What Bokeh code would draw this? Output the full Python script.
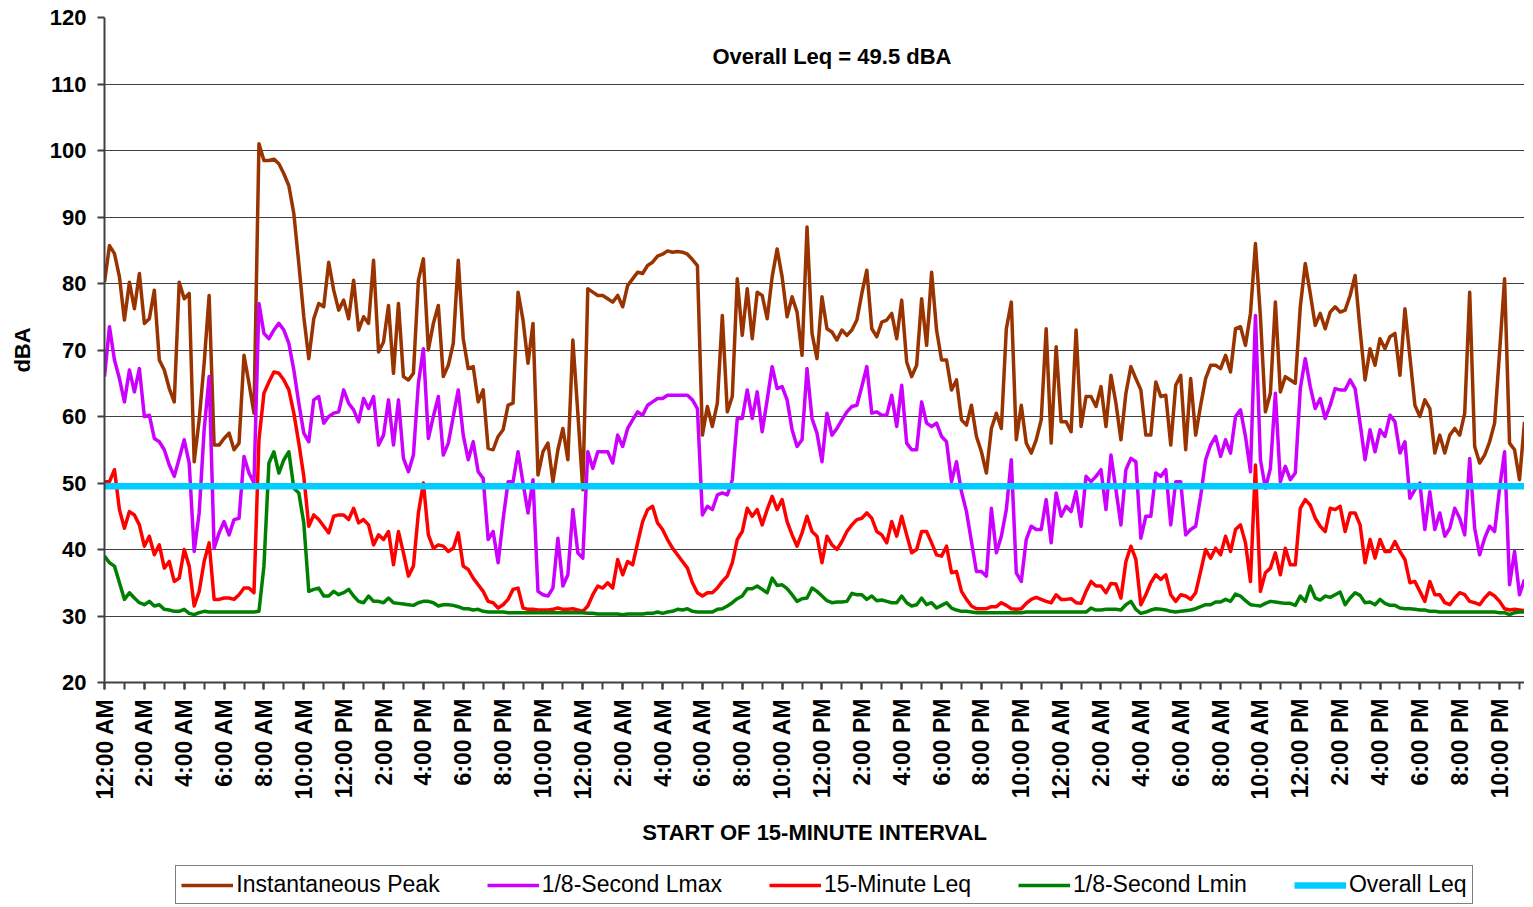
import math
from bokeh.plotting import figure
from bokeh.layouts import column
from bokeh.models import FixedTicker, Label, Legend, LegendItem, ColumnDataSource, Range1d
from bokeh.embed import file_html
from bokeh.resources import INLINE

tick_labels = [
    "12:00 AM", "2:00 AM", "4:00 AM", "6:00 AM", "8:00 AM", "10:00 AM",
    "12:00 PM", "2:00 PM", "4:00 PM", "6:00 PM", "8:00 PM", "10:00 PM",
    "12:00 AM", "2:00 AM", "4:00 AM", "6:00 AM", "8:00 AM", "10:00 AM",
    "12:00 PM", "2:00 PM", "4:00 PM", "6:00 PM", "8:00 PM", "10:00 PM",
    "12:00 AM", "2:00 AM", "4:00 AM", "6:00 AM", "8:00 AM", "10:00 AM",
    "12:00 PM", "2:00 PM", "4:00 PM", "6:00 PM", "8:00 PM", "10:00 PM",
]

peak = [
    80.2, 85.7, 84.5, 81.0, 74.5, 80.2, 76.2, 81.5, 74.0, 74.7, 79.0, 68.5, 67.0, 64.2, 62.2, 80.2,
    77.7, 78.5, 53.2, 59.5, 68.0, 78.2, 55.7, 55.7, 56.7, 57.5, 55.0, 56.0, 69.2, 65.0, 60.5, 101.0,
    98.5, 98.5, 98.7, 98.0, 96.5, 94.7, 90.5, 83.0, 75.0, 68.7, 74.7, 77.0, 76.5, 83.2, 79.0, 76.0,
    77.5, 74.7, 80.5, 73.0, 75.0, 74.0, 83.5, 69.7, 71.2, 76.7, 66.5, 77.0, 66.0, 65.5, 66.5, 80.5,
    83.7, 70.0, 74.0, 76.7, 66.0, 67.7, 71.0, 83.5, 71.7, 67.2, 67.5, 62.2, 64.0, 55.2, 55.0, 57.0,
    58.0, 61.7, 62.0, 78.7, 74.5, 68.0, 74.0, 51.2, 54.7, 56.0, 50.2, 55.0, 58.2, 53.5, 71.5, 60.5,
    49.0, 79.2, 78.7, 78.2, 78.2, 77.7, 77.2, 78.2, 76.5, 79.7, 80.7, 81.7, 81.5, 82.7, 83.2, 84.1,
    84.4, 84.9, 84.7, 84.8, 84.7, 84.4, 83.6, 82.7, 57.2, 61.5, 58.5, 62.0, 75.2, 60.7, 63.0, 80.7,
    72.2, 79.2, 71.7, 78.7, 78.2, 74.7, 81.0, 85.2, 81.0, 75.0, 78.0, 75.7, 69.2, 88.5, 72.5, 68.7,
    78.0, 73.2, 72.7, 71.5, 73.0, 72.2, 73.0, 74.5, 78.5, 82.0, 73.2, 72.0, 74.2, 74.5, 75.5, 71.7,
    77.5, 68.2, 66.0, 67.7, 77.7, 70.7, 81.7, 73.0, 68.5, 68.5, 64.0, 65.5, 59.5, 58.7, 61.7, 57.0,
    54.7, 51.5, 58.2, 60.5, 58.2, 73.2, 77.2, 56.5, 61.7, 56.0, 54.5, 56.5, 59.5, 73.2, 56.0, 70.5,
    59.2, 59.2, 57.7, 73.0, 58.5, 63.0, 63.0, 61.5, 64.5, 58.5, 66.2, 62.0, 56.5, 63.5, 67.5, 65.7,
    64.0, 57.2, 57.2, 65.2, 63.0, 63.2, 55.7, 64.7, 66.2, 55.0, 65.7, 57.2, 61.7, 65.7, 67.7, 67.7,
    67.2, 69.2, 66.7, 73.2, 73.5, 70.7, 75.5, 86.0, 75.0, 60.7, 63.5, 77.2, 63.7, 66.0, 65.5, 65.0,
    76.5, 83.0, 78.5, 73.7, 75.5, 73.2, 75.7, 76.5, 75.7, 76.0, 78.2, 81.2, 73.0, 65.5, 70.2, 67.7,
    71.7, 70.2, 72.0, 72.5, 66.2, 76.2, 69.0, 61.7, 60.0, 62.5, 61.2, 54.5, 57.2, 54.5, 57.2, 58.2,
    57.2, 60.5, 78.7, 55.5, 53.0, 54.2, 56.2, 59.0, 69.7, 80.7, 56.0, 55.0, 50.5, 59.2,
]

lmax = [
    66.0, 73.5, 68.5, 65.7, 62.2, 67.0, 63.7, 67.2, 60.0, 60.2, 56.7, 56.2, 55.0, 52.7, 51.0, 53.7,
    56.5, 53.0, 39.7, 45.5, 58.0, 66.0, 40.2, 42.5, 44.2, 42.2, 44.5, 44.7, 54.0, 51.5, 50.0, 77.0,
    72.5, 71.7, 73.0, 74.0, 73.0, 71.0, 67.0, 62.0, 57.5, 56.2, 62.5, 63.0, 59.0, 60.0, 60.5, 60.7,
    64.0, 62.0, 61.0, 59.2, 62.7, 61.2, 63.0, 55.7, 57.2, 62.5, 55.7, 62.5, 53.7, 51.7, 54.2, 65.0,
    70.2, 56.7, 60.0, 63.0, 54.2, 56.0, 60.0, 64.0, 57.2, 53.5, 56.2, 51.7, 50.7, 41.5, 42.7, 38.0,
    44.5, 50.2, 50.2, 54.7, 50.0, 45.5, 50.5, 33.7, 33.2, 33.0, 34.2, 41.7, 34.5, 36.2, 46.0, 39.5,
    38.7, 54.7, 52.2, 54.7, 54.7, 54.7, 53.0, 57.2, 55.5, 58.2, 59.5, 60.7, 60.2, 61.7, 62.2, 62.7,
    62.7, 63.2, 63.2, 63.2, 63.2, 63.2, 62.5, 61.2, 45.2, 46.5, 46.0, 48.2, 48.5, 48.2, 50.5, 59.7,
    59.7, 64.0, 59.7, 63.7, 57.7, 62.5, 67.5, 64.2, 64.5, 62.5, 58.0, 55.5, 56.5, 67.2, 59.7, 57.5,
    53.2, 60.5, 57.2, 58.2, 59.5, 60.7, 61.5, 61.7, 64.5, 67.5, 60.5, 60.7, 60.2, 60.2, 63.2, 58.5,
    64.7, 56.0, 55.0, 55.0, 62.2, 59.0, 58.5, 59.0, 57.0, 56.2, 50.2, 53.2, 48.7, 45.7, 41.2, 36.7,
    36.7, 36.0, 46.2, 39.5, 42.0, 46.0, 53.5, 36.5, 35.2, 41.5, 43.5, 43.0, 43.0, 47.5, 41.0, 48.5,
    45.0, 46.5, 45.7, 48.7, 43.5, 51.0, 50.2, 51.0, 52.0, 46.0, 54.2, 49.0, 43.7, 52.0, 53.7, 53.2,
    41.7, 45.0, 45.0, 51.5, 51.0, 52.0, 43.7, 50.2, 50.2, 42.2, 43.0, 43.5, 48.0, 53.5, 55.7, 57.0,
    54.0, 56.5, 54.5, 60.0, 61.0, 57.0, 51.7, 75.2, 53.5, 49.2, 52.2, 63.5, 50.2, 52.5, 50.5, 51.5,
    64.2, 68.7, 64.5, 61.2, 62.7, 59.7, 61.7, 64.2, 64.0, 64.0, 65.5, 64.2, 59.0, 53.5, 58.0, 54.7,
    58.0, 57.0, 60.2, 59.2, 54.5, 56.2, 47.7, 49.0, 50.0, 43.0, 48.7, 43.0, 45.5, 42.0, 43.2, 46.2,
    44.7, 42.2, 53.7, 43.2, 39.2, 41.7, 43.5, 42.7, 49.2, 54.7, 34.7, 39.7, 33.2, 35.5,
]

leq = [
    50.2, 50.2, 52.0, 46.0, 43.2, 45.7, 45.2, 43.7, 40.5, 42.0, 39.2, 40.7, 37.2, 38.2, 35.2, 35.7,
    40.0, 37.5, 31.5, 33.7, 38.2, 41.0, 32.5, 32.5, 32.7, 32.7, 32.5, 33.2, 34.2, 34.2, 33.5, 56.5,
    63.5, 65.2, 66.7, 66.5, 65.5, 64.0, 60.5, 56.0, 51.0, 43.5, 45.2, 44.5, 43.5, 42.5, 45.0, 45.2,
    45.2, 44.5, 46.2, 44.0, 44.5, 43.7, 40.7, 42.2, 41.5, 42.7, 37.7, 42.7, 39.5, 36.0, 37.5, 45.5,
    50.0, 42.2, 40.2, 40.7, 40.5, 39.7, 40.2, 42.5, 37.5, 37.0, 35.7, 34.7, 33.7, 32.2, 32.0, 31.2,
    31.7, 32.5, 34.0, 34.2, 31.2, 31.0, 31.0, 30.9, 30.9, 30.9, 31.0, 31.2, 31.0, 31.0, 31.1, 30.9,
    30.7, 31.5, 33.2, 34.5, 34.2, 35.0, 34.2, 38.5, 36.2, 38.2, 37.7, 41.0, 44.2, 46.0, 46.5, 44.0,
    43.0, 41.5, 40.2, 39.2, 38.2, 37.2, 35.0, 33.5, 33.0, 33.5, 33.5, 34.2, 35.2, 36.0, 38.0, 41.5,
    42.7, 46.2, 45.0, 46.0, 43.7, 46.0, 48.0, 46.0, 47.5, 44.2, 42.2, 40.5, 42.5, 45.0, 42.7, 42.0,
    38.0, 42.0, 40.7, 40.0, 41.2, 42.7, 43.7, 44.5, 44.7, 45.5, 44.7, 42.7, 42.2, 41.0, 44.2, 42.0,
    45.0, 42.2, 39.5, 40.0, 42.7, 42.7, 41.0, 39.2, 39.0, 40.5, 36.5, 36.7, 33.7, 32.5, 31.5, 31.1,
    31.1, 31.1, 31.4, 31.4, 32.0, 31.6, 31.1, 31.0, 31.1, 31.9, 32.5, 32.8, 32.5, 32.2, 32.0, 33.2,
    32.5, 32.5, 32.6, 32.0, 31.9, 33.7, 35.2, 34.5, 34.5, 33.5, 34.9, 34.8, 32.7, 38.2, 40.5, 38.5,
    31.7, 33.2, 35.0, 36.2, 35.5, 36.2, 33.2, 32.2, 33.2, 33.0, 32.5, 33.5, 36.7, 40.0, 38.7, 40.2,
    39.2, 42.0, 39.7, 43.0, 43.7, 41.0, 35.2, 52.7, 33.7, 36.5, 37.2, 39.5, 36.2, 40.2, 37.7, 37.7,
    46.2, 47.5, 46.7, 44.7, 43.5, 42.7, 46.2, 46.0, 46.5, 42.7, 45.5, 45.5, 43.7, 38.0, 41.5, 38.7,
    41.5, 39.7, 39.7, 41.2, 39.7, 38.5, 35.0, 35.2, 33.7, 32.2, 35.2, 33.2, 33.2, 32.0, 31.7, 32.7,
    33.5, 33.2, 32.2, 32.0, 31.7, 32.7, 33.5, 33.0, 32.2, 31.1, 30.9, 31.0, 30.9, 30.8,
]

lmin = [
    39.0, 38.0, 37.5, 35.0, 32.5, 33.5, 32.7, 32.0, 31.7, 32.2, 31.5, 31.7, 31.0, 30.9, 30.7, 30.7,
    31.0, 30.4, 30.2, 30.5, 30.7, 30.6, 30.6, 30.6, 30.6, 30.6, 30.6, 30.6, 30.6, 30.6, 30.6, 30.7,
    37.5, 53.0, 54.7, 51.5, 53.5, 54.7, 49.2, 48.5, 44.0, 33.7, 34.0, 34.2, 33.0, 33.0, 33.7, 33.2,
    33.5, 34.0, 33.0, 32.2, 32.0, 33.0, 32.2, 32.2, 32.0, 32.7, 32.0, 31.9, 31.8, 31.7, 31.6, 32.0,
    32.2, 32.2, 32.0, 31.5, 31.7, 31.7, 31.6, 31.4, 31.1, 31.1, 30.9, 31.0, 30.7, 30.6, 30.6, 30.6,
    30.6, 30.5, 30.5, 30.5, 30.5, 30.5, 30.5, 30.5, 30.5, 30.5, 30.5, 30.5, 30.5, 30.5, 30.5, 30.5,
    30.5, 30.4, 30.4, 30.3, 30.3, 30.3, 30.3, 30.3, 30.2, 30.3, 30.3, 30.3, 30.3, 30.4, 30.4, 30.6,
    30.4, 30.6, 30.7, 31.0, 30.9, 31.1, 30.7, 30.6, 30.6, 30.6, 30.6, 31.0, 31.1, 31.5, 32.0, 32.6,
    33.0, 34.1, 34.1, 34.5, 34.0, 33.5, 35.7, 34.6, 34.7, 34.1, 33.2, 32.2, 32.6, 32.7, 34.2, 33.7,
    33.0, 32.3, 32.0, 32.1, 32.1, 32.2, 33.4, 33.2, 33.2, 32.5, 33.0, 32.3, 32.4, 32.2, 32.0, 32.0,
    33.0, 32.0, 31.5, 31.7, 32.7, 31.7, 32.0, 31.2, 31.6, 32.0, 31.2, 30.9, 30.7, 30.7, 30.6, 30.5,
    30.5, 30.5, 30.5, 30.5, 30.5, 30.5, 30.5, 30.5, 30.5, 30.6, 30.6, 30.6, 30.6, 30.6, 30.6, 30.6,
    30.6, 30.6, 30.6, 30.6, 30.6, 30.6, 31.2, 30.9, 30.9, 31.0, 31.0, 31.0, 30.9, 31.7, 32.2, 31.0,
    30.4, 30.6, 30.9, 31.1, 31.0, 30.9, 30.7, 30.6, 30.7, 30.8, 30.9, 31.1, 31.4, 31.7, 31.7, 32.1,
    32.1, 32.5, 32.2, 33.3, 33.0, 32.3, 31.7, 31.6, 31.5, 31.9, 32.2, 32.1, 32.0, 31.9, 31.9, 31.6,
    33.0, 32.2, 34.5, 32.7, 32.4, 33.0, 32.8, 33.2, 33.6, 31.7, 32.7, 33.5, 33.1, 32.0, 32.1, 31.7,
    32.5, 31.9, 31.6, 31.6, 31.2, 31.1, 31.1, 31.0, 30.9, 30.9, 30.7, 30.7, 30.6, 30.6, 30.6, 30.6,
    30.6, 30.6, 30.6, 30.6, 30.6, 30.6, 30.6, 30.6, 30.5, 30.5, 30.2, 30.5, 30.6, 30.6,
]

overall_leq = 49.5

series_cols = ["peak", "lmax", "leq", "lmin", "overall"]
series_names = ["Instantaneous Peak", "1/8-Second Lmax", "15-Minute Leq", "1/8-Second Lmin", "Overall Leq"]
series_colors = ["#993300", "#CC00FF", "#FF0000", "#008000", "#00CCFF"]
series_widths = [3.5, 3.5, 3.5, 3.5, 6.5]

n = len(peak)
idx = list(range(n))
source = ColumnDataSource(data=dict(
    x=idx, peak=peak, lmax=lmax, leq=leq, lmin=lmin, overall=[overall_leq] * n,
))

FONT = "Liberation Sans"

p = figure(
    frame_width=1420, frame_height=665, output_backend="svg", toolbar_location=None,
    x_range=Range1d(0, n - 1), y_range=Range1d(20, 120),
    min_border_left=104, min_border_top=17, min_border_right=0, min_border_bottom=183,
    background_fill_color="white", border_fill_color="white",
)
p.outline_line_color = None

for col, color, w in zip(series_cols, series_colors, series_widths):
    p.line("x", col, source=source, line_color=color, line_width=w, line_join="round")

# y axis
p.yaxis.ticker = FixedTicker(ticks=list(range(20, 121, 10)))
p.yaxis.axis_line_color = "#404040"
p.yaxis.axis_line_width = 2
p.yaxis.major_tick_line_color = "#404040"
p.yaxis.major_tick_line_width = 2
p.yaxis.major_tick_out = 7
p.yaxis.major_tick_in = 0
p.yaxis.minor_tick_line_color = None
p.yaxis.major_label_text_font = FONT
p.yaxis.major_label_text_font_style = "bold"
p.yaxis.major_label_text_font_size = "22px"
p.yaxis.major_label_text_color = "black"
p.yaxis.major_label_standoff = 11
p.yaxis.axis_label = "dBA"
p.yaxis.axis_label_text_font = FONT
p.yaxis.axis_label_text_font_style = "bold"
p.yaxis.axis_label_text_font_size = "22px"
p.yaxis.axis_label_text_color = "black"
p.yaxis.axis_label_standoff = 12

p.ygrid.grid_line_color = "#404040"
p.ygrid.grid_line_width = 1
p.xgrid.grid_line_color = None

# x axis
major = list(range(0, n, 8))
minor = list(range(0, n, 4))
p.xaxis.ticker = FixedTicker(ticks=major, minor_ticks=minor)
p.xaxis.major_label_overrides = {t: lbl for t, lbl in zip(major, tick_labels)}
p.xaxis.major_label_orientation = math.pi / 2
p.xaxis.axis_line_color = "#404040"
p.xaxis.axis_line_width = 2
p.xaxis.major_tick_line_color = "#404040"
p.xaxis.major_tick_line_width = 2
p.xaxis.minor_tick_line_color = "#404040"
p.xaxis.minor_tick_line_width = 2
p.xaxis.major_tick_out = 7
p.xaxis.major_tick_in = 0
p.xaxis.minor_tick_out = 7
p.xaxis.minor_tick_in = 0
p.xaxis.major_label_text_font = FONT
p.xaxis.major_label_text_font_style = "bold"
p.xaxis.major_label_text_font_size = "23px"
p.xaxis.major_label_text_color = "black"
p.xaxis.major_label_standoff = 9
p.xaxis.axis_label = "START OF 15-MINUTE INTERVAL"
p.xaxis.axis_label_text_font = FONT
p.xaxis.axis_label_text_font_style = "bold"
p.xaxis.axis_label_text_font_size = "22px"
p.xaxis.axis_label_text_color = "black"
p.xaxis.axis_label_standoff = 18

# annotation
p.add_layout(Label(
    x=146, y=114.1, text=f"Overall Leq = {overall_leq} dBA",
    text_font=FONT, text_font_style="bold", text_font_size="22px",
    text_align="center", text_baseline="middle", text_color="black",
))

# legend strip: a second figure holding the legend (series drawn out of view)
p2 = figure(
    frame_width=1420, frame_height=39, output_backend="svg", toolbar_location=None,
    x_range=Range1d(0, 1), y_range=Range1d(0, 1),
    x_axis_location=None, y_axis_location=None,
    min_border_left=97, min_border_right=0, min_border_top=0, min_border_bottom=0,
    background_fill_color="white", border_fill_color="white",
)
p2.outline_line_color = None
p2.grid.visible = False
leg_renderers = []
for col, color, w in zip(series_cols, series_colors, series_widths):
    leg_renderers.append(p2.line("x", col, source=source, line_color=color, line_width=w))

legend = Legend(
    items=[LegendItem(label=name, renderers=[r]) for name, r in zip(series_names, leg_renderers)],
    orientation="horizontal", location=(143, 0),
    label_text_font=FONT, label_text_font_size="23px", label_text_color="black",
    glyph_width=52, glyph_height=22, label_standoff=3, spacing=47,
    padding=5, margin=0,
    border_line_color="black", border_line_width=1, background_fill_color="white",
)
p2.add_layout(legend, "center")

open("out.html", "w").write(file_html(column(p, p2, spacing=0), INLINE))
